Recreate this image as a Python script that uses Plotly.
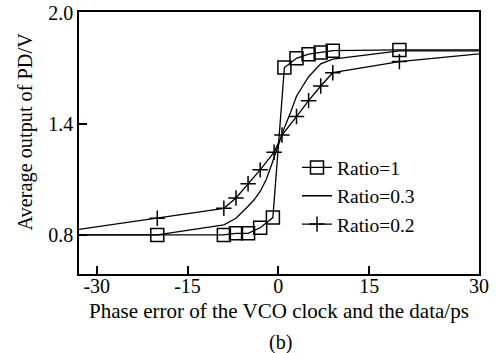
import plotly.graph_objects as go

# ---- data ----
x_r1 = [-40, -20, -9, -7, -5, -3, -0.9, 1, 3, 5, 7, 9, 20, 40]
y_r1 = [0.80, 0.80, 0.80, 0.809, 0.809, 0.839, 0.894, 1.705, 1.755, 1.777, 1.786, 1.796, 1.80, 1.80]

x_r03 = [-40, -20, -9, -7, -5, -4, -3, -2, -1, 0, 1, 2, 3, 5, 7, 9, 20, 40]
y_r03 = [0.80, 0.80, 0.855, 0.89, 0.955, 0.99, 1.035, 1.10, 1.19, 1.29, 1.38, 1.46, 1.55,
         1.655, 1.725, 1.75, 1.795, 1.795]

x_r02 = [-40, -20, -9, -7, -5, -3, -0.7, 0.6, 3, 5, 7, 9, 20, 40]
y_r02 = [0.797, 0.89, 0.944, 1.0, 1.077, 1.152, 1.247, 1.34, 1.44, 1.526, 1.605, 1.677, 1.737, 1.80]

x_tick_vals = [-30, -15, 0, 15, 33.15]
x_tick_text = ["-30", "-15", "0", "15", "30"]
y_tick_vals = [0.8, 1.4, 2.0]
y_tick_text = ["0.8", "1.4", "2.0"]

x_title = "Phase error of the VCO clock and the data/ps"
y_title = "Average output of PD/V"
caption = "(b)"

FONT = "Liberation Serif"

fig = go.Figure()
fig.add_trace(go.Scatter(
    x=x_r1, y=y_r1, mode="lines+markers", name="Ratio=1",
    line=dict(color="black", width=1.3),
    marker=dict(symbol="square-open", size=13, color="black", line=dict(width=1.5)),
))
fig.add_trace(go.Scatter(
    x=x_r03, y=y_r03, mode="lines", name="Ratio=0.3",
    line=dict(color="black", width=1.3),
))
fig.add_trace(go.Scatter(
    x=x_r02, y=y_r02, mode="lines+markers", name="Ratio=0.2",
    line=dict(color="black", width=1.3),
    marker=dict(symbol="cross-thin-open", size=11, color="black", line=dict(width=1.5, color="black")),
))

axis_common = dict(
    showgrid=False, zeroline=False, showline=True, linecolor="black", linewidth=1.5,
    mirror=True, ticks="inside", ticklen=8, tickwidth=1.5, tickcolor="black",
    tickfont=dict(family=FONT, size=20, color="black"), automargin=False,
)

fig.update_xaxes(range=[-32.93, 33.15], tickvals=x_tick_vals, ticktext=x_tick_text,
                 ticklabelstandoff=-7, **axis_common)
fig.update_yaxes(range=[0.589, 2.005], tickvals=y_tick_vals, ticktext=y_tick_text, **axis_common)

fig.add_annotation(text=y_title, textangle=-90, xref="paper", yref="paper",
                   x=-0.133, y=0.543, showarrow=False, xanchor="center", yanchor="middle",
                   font=dict(family=FONT, size=20.3, color="black"))
fig.add_annotation(text=x_title, xref="paper", yref="paper",
                   x=0.499, y=-0.141, showarrow=False, xanchor="center", yanchor="middle",
                   font=dict(family=FONT, size=21, color="black"))
fig.add_annotation(text=caption, xref="paper", yref="paper", x=0.5025, y=-0.26,
                   showarrow=False, xanchor="center", yanchor="middle",
                   font=dict(family=FONT, size=20, color="black"))

fig.update_layout(
    width=497, height=353,
    margin=dict(l=79, r=18, t=12, b=79, autoexpand=False),
    paper_bgcolor="white", plot_bgcolor="white",
    showlegend=True,
    legend=dict(x=0.545, y=0.48, xanchor="left", yanchor="top", bgcolor="rgba(0,0,0,0)",
                font=dict(family=FONT, size=19.5, color="black"), itemwidth=30,
                tracegroupgap=0),
    font=dict(family=FONT, color="black"),
)

fig.write_html("out.html", config={"displayModeBar": False},
               post_script="document.body.style.margin='0';")
